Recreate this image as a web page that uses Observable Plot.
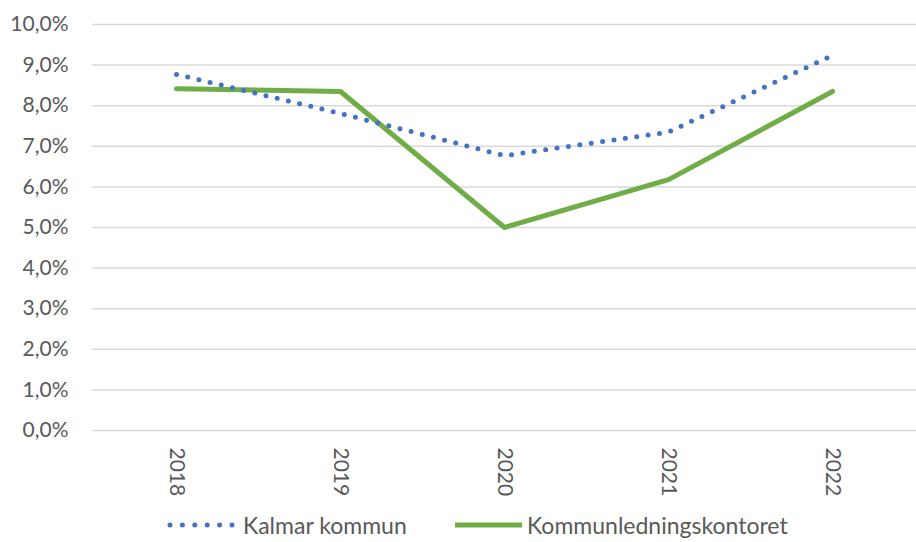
<!DOCTYPE html>
<html><head><meta charset="utf-8">
<script src="https://cdn.jsdelivr.net/npm/d3@7"></script>
<script src="https://cdn.jsdelivr.net/npm/@observablehq/plot@0.6"></script>
<style>
body{margin:0;background:#fff;font-family:Lato,"Open Sans",sans-serif;}
#legend{position:relative;height:28px;font-size:23px;line-height:26px;color:#595959;}
#legend .item{position:absolute;top:0;display:flex;align-items:center;}
</style></head><body>
<div id="chart"></div>
<div id="legend"></div>
<script>
const years = ["2018","2019","2020","2021","2022"];
const kalmar = [8.77, 7.81, 6.77, 7.35, 9.24];
const klk = [8.42, 8.35, 5.0, 6.18, 8.35];
const seriesNames = ["Kalmar kommun","Kommunledningskontoret"];
const yTicks = [0,1,2,3,4,5,6,7,8,9,10];

const data = [];
years.forEach((y,i)=>{
  data.push({year:y, value:kalmar[i], series:seriesNames[0]});
  data.push({year:y, value:klk[i], series:seriesNames[1]});
});

const fmt = v => v.toFixed(1).replace(".", ",") + "%";

const chart = Plot.plot({
  width: 916, height: 512,
  marginLeft: 92, marginRight: 0, marginTop: 24, marginBottom: 82,
  style: {fontFamily: "Lato, 'Open Sans', sans-serif", color: "#595959", background: "#fff"},
  x: {type: "point", domain: years, padding: 0.5, label: null},
  y: {domain: [0,10], label: null},
  marks: [
    Plot.gridY(yTicks, {stroke: "#d9d9d9", strokeOpacity: 1, strokeWidth: 1.5}),
    Plot.axisY(yTicks, {tickSize: 0, tickPadding: 24, tickFormat: fmt, label: null, fontSize: 21}),
    Plot.axisX(years, {tickSize: 0, tickRotate: 90, tickPadding: 17, label: null, fontSize: 21}),
    Plot.line(data.filter(d=>d.series===seriesNames[1]), {x:"year", y:"value", stroke:"#70AD47", strokeWidth:5, strokeLinejoin:"round", strokeLinecap:"round"}),
    Plot.line(data.filter(d=>d.series===seriesNames[0]), {x:"year", y:"value", stroke:"#4472C4", strokeWidth:5, strokeDasharray:"0,11.5", strokeLinecap:"round"})
  ]
});
document.getElementById("chart").appendChild(chart);

const legend = document.getElementById("legend");
const items = [
  {left:167, gap:8, name:seriesNames[0], svg:'<svg width="68" height="10"><line x1="3" y1="5" x2="65" y2="5" stroke="#4472C4" stroke-width="5" stroke-dasharray="0,12.4" stroke-linecap="round"/></svg>'},
  {left:455, gap:4, name:seriesNames[1], svg:'<svg width="68" height="10"><line x1="0" y1="5" x2="67" y2="5" stroke="#70AD47" stroke-width="5"/></svg>'}
];
items.forEach(it=>{
  const d = document.createElement("div");
  d.className="item"; d.style.left = it.left+"px";
  d.innerHTML = it.svg + '<span style="margin-left:'+it.gap+'px">'+it.name+'</span>';
  legend.appendChild(d);
});
</script>
</body></html>
